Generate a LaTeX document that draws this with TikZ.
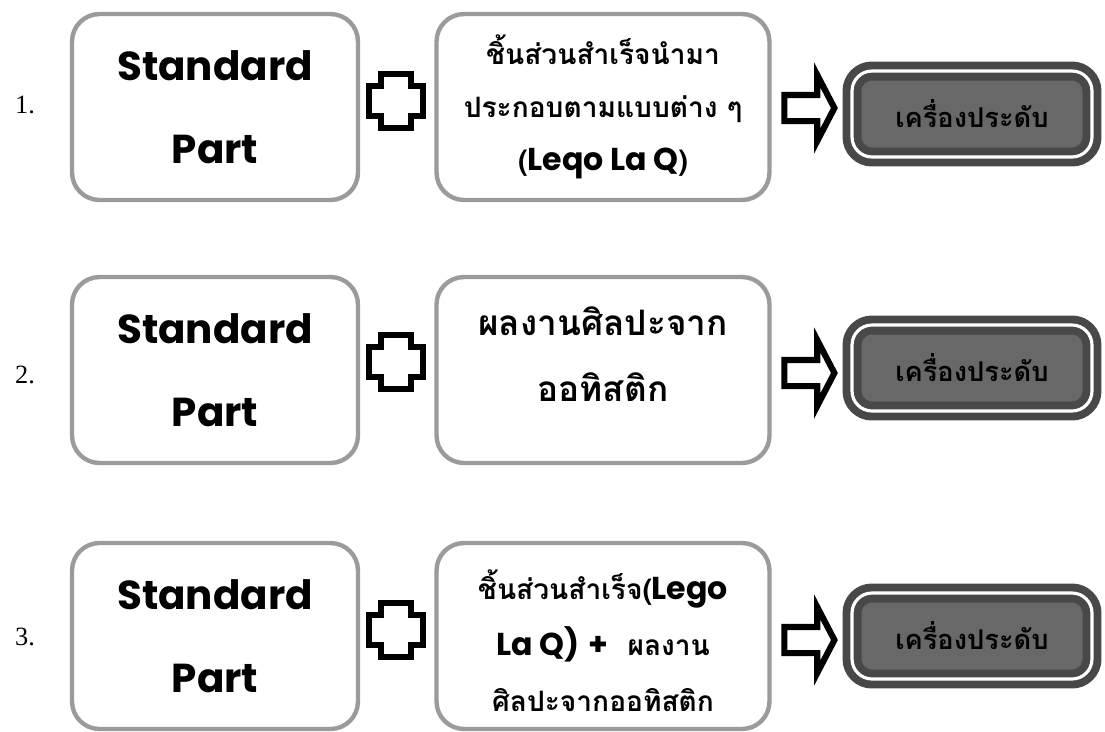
\documentclass[tikz,border=0pt]{standalone}
\usepackage{fontspec}
\setmainfont{Liberation Serif}
\newfontfamily\thaifont[Script=Thai]{Loma}
\newfontfamily\comicfont{Poppins}
\usetikzlibrary{shapes.arrows,positioning,calc}

\definecolor{frameGray}{RGB}{155,155,155}
\definecolor{jewelGray}{RGB}{104,104,104}
\definecolor{jewelEdge}{RGB}{72,72,72}

\newcommand{\lego}[1]{{\comicfont\bfseries\fontsize{18}{30}\selectfont #1}}

\tikzset{
  partbox/.style={draw=frameGray, line width=2.5pt, rounded corners=0.55cm, fill=white,
    minimum width=5.72cm, minimum height=3.72cm, align=center, inner sep=0pt},
  stdtext/.style={font=\comicfont\bfseries\fontsize{23}{47}\selectfont},
  ideabox/.style={partbox, minimum width=6.66cm},
  jewelbox/.style={draw=jewelEdge, fill=jewelGray, line width=4.5pt, double=white,
    double distance=1.8pt, rounded corners=0.4cm, minimum width=4.8cm,
    minimum height=1.72cm, inner sep=0pt, text=black,
    font=\thaifont\bfseries\fontsize{15.5}{18}\selectfont},
  nextarrow/.style={single arrow, draw=black, fill=white, line width=3.5pt,
    minimum width=1.2cm, minimum height=1.0cm, inner sep=0.2cm,
    single arrow head extend=0.4cm, single arrow tip angle=125},
  plussign/.style={draw=black, fill=white, line width=3.5pt},
  rownum/.style={font=\fontsize{15}{17}\selectfont},
}

\begin{document}
\begin{tikzpicture}[x=0.02cm, y=-0.02cm]
  \useasboundingbox (0,0) rectangle (1105,731);

  % row 1
  \node[rownum] (n1) at (25,105) {1.};
  \node[partbox, stdtext] (std1) at (215,107) {Standard\\Part};
  \node[ideabox, font=\thaifont\bfseries\fontsize{16}{30}\selectfont] (mid1) at (603,107)
    {ชิ้นส่วนสำเร็จนำมา\\ประกอบตามแบบต่าง ๆ\\(\lego{Leqo La Q})};
  \node[jewelbox] (res1) at (972,114) {เครื่องประดับ};
  \node[nextarrow] (arr1) at (806,108) {};
  \coordinate (plus1) at (396,101);

  % row 2
  \node[rownum] (n2) at (25,375) {2.};
  \node[partbox, stdtext] (std2) at (215,370) {Standard\\Part};
  \node[ideabox, font=\thaifont\bfseries\fontsize{20}{38}\selectfont] (mid2) at (603,370)
    {ผลงานศิลปะจาก\\ออทิสติก\\[-20pt]\mbox{}};
  \node[jewelbox] (res2) at (972,368) {เครื่องประดับ};
  \node[nextarrow] (arr2) at (806,373) {};
  \coordinate (plus2) at (396,362);

  % row 3
  \node[rownum] (n3) at (25,637) {3.};
  \node[partbox, stdtext] (std3) at (215,636) {Standard\\Part};
  \node[ideabox, font=\thaifont\bfseries\fontsize{16}{32}\selectfont] (mid3) at (603,636)
    {ชิ้นส่วนสำเร็จ(\lego{Lego}\\\lego{La Q)} \lego{+}\ \ ผลงาน\\ศิลปะจากออทิสติก\\[-37pt]\mbox{}};
  \node[jewelbox] (res3) at (972,636) {เครื่องประดับ};
  \node[nextarrow] (arr3) at (806,640) {};
  \coordinate (plus3) at (396,630);

  \foreach \r in {1,2,3}
    \draw[plussign] (plus\r) +(-15,-27) -- +(15,-27) -- +(15,-15) -- +(27,-15)
      -- +(27,15) -- +(15,15) -- +(15,27) -- +(-15,27) -- +(-15,15)
      -- +(-27,15) -- +(-27,-15) -- +(-15,-15) -- cycle;
\end{tikzpicture}
\end{document}
